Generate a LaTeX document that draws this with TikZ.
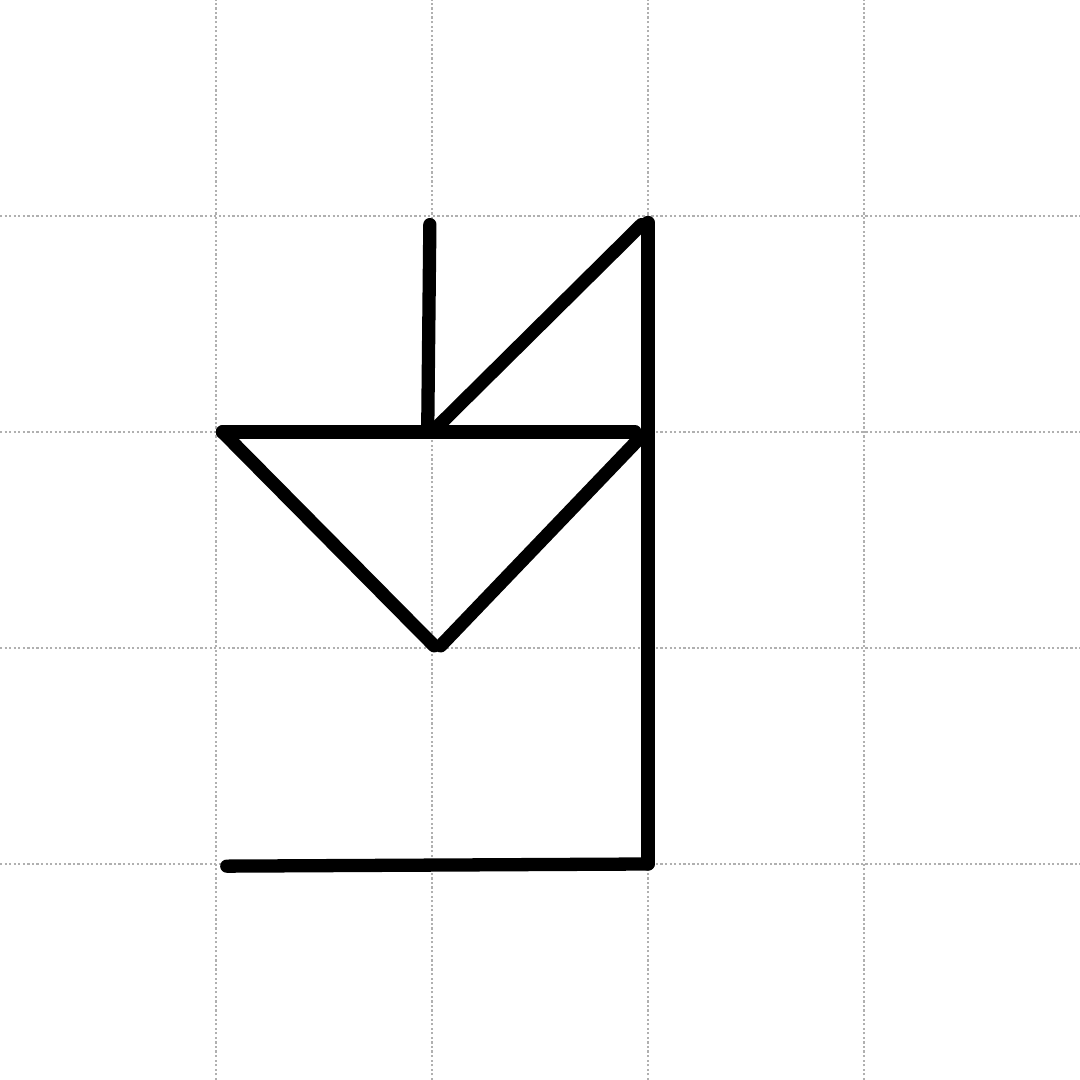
\documentclass[tikz,border=0pt]{standalone}
\usepackage{tikz}
\definecolor{glyphInk}{HTML}{000000}
\definecolor{gridGray}{HTML}{B0B0B0}
\tikzset{
  gridline/.style={draw=gridGray, line width=0.3pt, dash pattern=on 0.3pt off 0.3pt},
  stroke/.style={draw=glyphInk, line width=1.75pt, line cap=round, line join=round}
}
\begin{document}
\begin{tikzpicture}
  \useasboundingbox (0,0) rectangle (5,5);
  % background grid
  \foreach \k in {1,...,4} {
    \draw[gridline] (\k,0) -- (\k,5);
    \draw[gridline] (0,\k) -- (5,\k);
  }
  % strokes
  \coordinate (stemTop) at (1.99,3.96);
  \coordinate (stemFoot) at (1.98,3.0);
  \coordinate (flagTip) at (2.97,3.96);
  \coordinate (postTop) at (3.0,3.97);
  \coordinate (postFoot) at (3.0,1.0);
  \coordinate (barLeft) at (1.03,3.0);
  \coordinate (barRight) at (2.94,3.0);
  \coordinate (vLeft) at (2.01,2.01);
  \coordinate (vRight) at (2.04,2.01);
  \coordinate (vTop) at (2.96,2.97);
  \coordinate (baseLeft) at (1.05,0.99);
  \draw[stroke] (stemTop) -- (stemFoot);
  \draw[stroke] (2.0,3.0) -- (flagTip);
  \draw[stroke] (postTop) -- (postFoot);
  \draw[stroke] (barLeft) -- (barRight);
  \draw[stroke] (barLeft) -- (vLeft);
  \draw[stroke] (vRight) -- (vTop);
  \draw[stroke] (baseLeft) -- (postFoot);
\end{tikzpicture}
\end{document}
